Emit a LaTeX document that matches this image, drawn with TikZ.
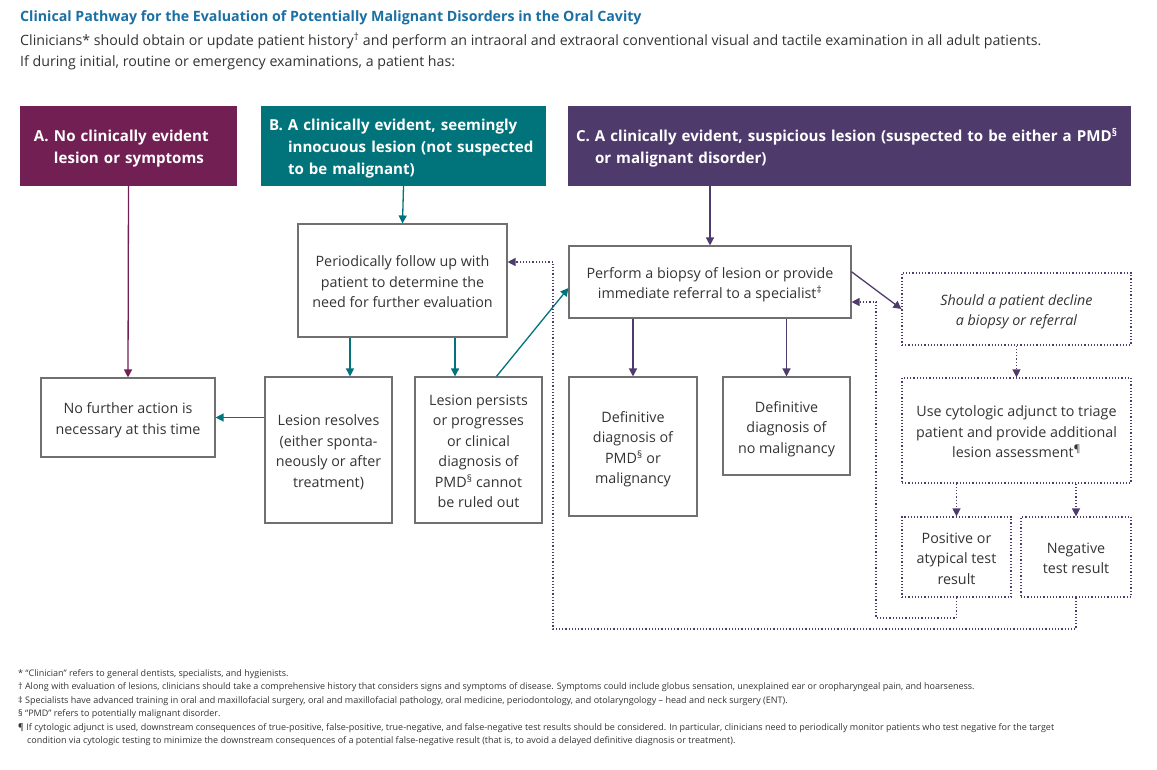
\documentclass[tikz,border=0pt]{standalone}
\usepackage{fontspec}
\setmainfont{Open Sans}
\usetikzlibrary{arrows.meta,calc}
\definecolor{cA}{HTML}{722053}
\definecolor{cB}{HTML}{00747A}
\definecolor{cC}{HTML}{4F3A6C}
\definecolor{ctitle}{HTML}{1A6FA3}
\definecolor{txt}{HTML}{333333}
\definecolor{bgray}{HTML}{707070}
\newcommand\bxlines[1]{\raisebox{-2.5pt}[\height][\depth]{\begin{tabular}{@{}c@{}}#1\end{tabular}}}
\newcommand\hdlines[2]{\raisebox{-2.5pt}[\height][\depth]{\begin{tabular}{@{}p{#1}@{}l@{}}#2\end{tabular}}}
\begin{document}
\begin{tikzpicture}[x=1pt,y=-1pt,
  body/.style={font=\fontsize{14.3}{20.5}\selectfont, text=txt, align=center},
  plainbox/.style={draw=bgray, line width=1.1pt, inner sep=0pt, body},
  dotbox/.style={draw=cC, line width=1.2pt, dash pattern=on 1.2pt off 2pt, inner sep=0pt, body},
  hdr/.style={fill=#1, inner ysep=0pt, text=white, align=left, font=\fontsize{15.1}{22}\selectfont\bfseries},
  tip/.style={-{Triangle[length=8pt,width=8pt]}},
  arrA/.style={tip, draw=cA, line width=1.3pt},
  arrB/.style={tip, draw=cB, line width=1.3pt},
  arrC/.style={tip, draw=cC, line width=1.3pt},
  dotarr/.style={tip, draw=cC, line width=1.3pt, dash pattern=on 1.2pt off 2pt},
]
\useasboundingbox (0,0) rectangle (1157,770);

% title and intro
\node[anchor=base west, inner sep=0pt, text=ctitle, font=\fontsize{14.2}{16}\selectfont\bfseries] (title) at (20,22)
  {Clinical Pathway for the Evaluation of Potentially Malignant Disorders in the Oral Cavity};
\node[anchor=north west, inner sep=0pt, text=txt, align=left, font=\fontsize{14.2}{21}\selectfont] (intro) at (20,33)
  {Clinicians* should obtain or update patient history\textsuperscript{†} and perform an intraoral and extraoral conventional visual and tactile examination in all adult patients.\\
   If during initial, routine or emergency examinations, a patient has:};

% headers
\node[hdr=cA, minimum width=217, minimum height=80, text width=189, inner xsep=14] (A) at (128.5,146)
  {\hdlines{20pt}{A.&No clinically evident\\&lesion or symptoms}};
\node[hdr=cB, minimum width=285, minimum height=80, text width=269, inner xsep=8] (B) at (403.5,146)
  {\hdlines{19pt}{B.&A clinically evident, seemingly\\&innocuous lesion (not suspected\\&to be malignant)}};
\node[hdr=cC, minimum width=563, minimum height=80, text width=547, inner xsep=8] (C) at (849.5,146)
  {\hdlines{19pt}{C.&A clinically evident, suspicious lesion (suspected to be either a PMD\textsuperscript{§}\\&or malignant disorder)}};

% boxes
\node[plainbox, minimum width=174, minimum height=79] (nofurther) at (128,417.5)
  {\bxlines{No further action is\\necessary at this time}};
\node[plainbox, minimum width=209, minimum height=113] (period) at (402.5,280.5)
  {\bxlines{Periodically follow up with\\patient to determine the\\need for further evaluation}};
\node[plainbox, minimum width=127, minimum height=146] (resolves) at (328.5,450)
  {\bxlines{Lesion resolves\\(either sponta-\\neously or after\\treatment)}};
\node[plainbox, minimum width=127, minimum height=146] (persists) at (478.5,450)
  {\bxlines{Lesion persists\\or progresses\\or clinical\\diagnosis of\\PMD\textsuperscript{§} cannot\\be ruled out}};
\node[plainbox, minimum width=282, minimum height=72] (perform) at (710,282)
  {\bxlines{Perform a biopsy of lesion or provide\\immediate referral to a specialist\textsuperscript{‡}}};
\node[plainbox, minimum width=128, minimum height=139] (defpmd) at (633,446.5)
  {\bxlines{Definitive\\diagnosis of\\PMD\textsuperscript{§} or\\malignancy}};
\node[plainbox, minimum width=127, minimum height=98] (defno) at (786.5,426)
  {\bxlines{Definitive\\diagnosis of\\no malignancy}};
\node[dotbox, minimum width=229, minimum height=72, font=\fontsize{14.3}{20.5}\selectfont\itshape] (should) at (1016.5,309)
  {\bxlines{Should a patient decline\\a biopsy or referral}};
\node[dotbox, minimum width=229, minimum height=105] (cyto) at (1016.5,430.5)
  {\bxlines{Use cytologic adjunct to triage\\patient and provide additional\\lesion assessment\textsuperscript{¶}}};
\node[dotbox, minimum width=109, minimum height=80] (pos) at (956.5,557)
  {\bxlines{Positive or\\atypical test\\result}};
\node[dotbox, minimum width=110, minimum height=80] (neg) at (1076,557)
  {\bxlines{Negative\\test result}};

% connectors
\draw[arrA] (A.south) -- (nofurther.north);
\draw[arrB] (B.south) -- (period.north);
\coordinate (p1) at ($(period.south west)!0.25!(period.south east)$);
\coordinate (p2) at ($(period.south west)!0.75!(period.south east)$);
\draw[arrB] (p1) -- (p1 |- resolves.north);
\draw[arrB] (p2) -- (p2 |- persists.north);
\draw[arrB] (nofurther.east -| resolves.west) -- (nofurther.east);
\draw[arrB] ($(persists.north west)!0.64!(persists.north east)$) -- ($(perform.west)+(0,6)$);
\draw[arrC] (perform.north |- C.south) -- (perform.north);
\draw[arrC] (defpmd.north |- perform.south) -- (defpmd.north);
\draw[arrC] (defno.north |- perform.south) -- (defno.north);
\draw[arrC] ($(perform.north east)!0.36!(perform.south east)$) -- (should.west);
\draw[dotarr] (should.south) -- (cyto.north);
\draw[dotarr] (pos.north |- cyto.south) -- (pos.north);
\draw[dotarr] (neg.north |- cyto.south) -- (neg.north);
\coordinate (lp1) at (876,618);
\coordinate (lp2) at (553,629);
\draw[dotarr] (pos.south) |- (lp1) |- ($(perform.east)+(0,20)$);
\draw[dotarr] (neg.south) |- (lp2) |- ($(period.east)+(0,-18.5)$);

% footnotes
\node[anchor=north west, inner sep=0pt, text=txt, align=left, font=\fontsize{9}{13.5}\selectfont] (notes) at (18,669)
  {* “Clinician” refers to general dentists, specialists, and hygienists.\\
   † Along with evaluation of lesions, clinicians should take a comprehensive history that considers signs and symptoms of disease. Symptoms could include globus sensation, unexplained ear or oropharyngeal pain, and hoarseness.\\
   ‡ Specialists have advanced training in oral and maxillofacial surgery, oral and maxillofacial pathology, oral medicine, periodontology, and otolaryngology – head and neck surgery (ENT).\\
   § “PMD” refers to potentially malignant disorder.\\
   ¶ If cytologic adjunct is used, downstream consequences of true-positive, false-positive, true-negative, and false-negative test results should be considered. In particular, clinicians need to periodically monitor patients who test negative for the target\\
   \hspace*{9pt}condition via cytologic testing to minimize the downstream consequences of a potential false-negative result (that is, to avoid a delayed definitive diagnosis or treatment).};
\end{tikzpicture}
\end{document}
